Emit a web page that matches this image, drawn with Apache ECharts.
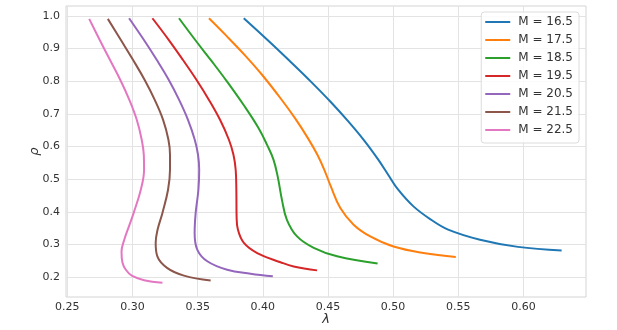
<!DOCTYPE html>
<html>
<head>
<meta charset="utf-8">
<script src="https://cdn.jsdelivr.net/npm/echarts@6/dist/echarts.min.js"></script>
<style>
  html, body { margin: 0; padding: 0; background: #fff; }
  #chart { width: 617px; height: 330px; }
</style>
</head>
<body>
<div id="chart"></div>
<script>
// curves: lambda (x) and rho (y) per Mach number
var lam_165 = [0.3854, 0.4051, 0.4212, 0.4369, 0.4518, 0.4656, 0.4783, 0.4886, 0.4962, 0.5039, 0.5156, 0.5292, 0.5422, 0.5667, 0.5958, 0.6293];
var rho_165 = [0.993, 0.921, 0.860, 0.799, 0.738, 0.677, 0.616, 0.560, 0.514, 0.468, 0.417, 0.376, 0.346, 0.315, 0.293, 0.282];

var lam_175 = [0.3587, 0.3714, 0.3860, 0.3994, 0.4136, 0.4247, 0.4346, 0.4419, 0.4472, 0.4522, 0.4595, 0.4697, 0.4825, 0.5003, 0.5233, 0.5481];
var rho_175 = [0.993, 0.942, 0.881, 0.820, 0.748, 0.687, 0.626, 0.575, 0.529, 0.478, 0.412, 0.361, 0.325, 0.294, 0.274, 0.262];

var lam_185 = [0.3357, 0.3492, 0.3611, 0.3726, 0.3852, 0.3967, 0.4032, 0.4082, 0.4116, 0.4147, 0.4185, 0.4263, 0.4391, 0.4570, 0.4881];
var rho_185 = [0.993, 0.921, 0.860, 0.799, 0.728, 0.657, 0.606, 0.560, 0.505, 0.437, 0.376, 0.325, 0.290, 0.264, 0.242];

var lam_195 = [0.3153, 0.3278, 0.3388, 0.3492, 0.3587, 0.3672, 0.3740, 0.3775, 0.3792, 0.3797, 0.3799, 0.3809, 0.3855, 0.3957, 0.4136, 0.4237, 0.4417];
var rho_195 = [0.993, 0.927, 0.865, 0.804, 0.743, 0.682, 0.621, 0.575, 0.529, 0.468, 0.386, 0.346, 0.305, 0.274, 0.246, 0.233, 0.221];

var lam_205 = [0.2974, 0.3087, 0.3187, 0.3279, 0.3358, 0.3426, 0.3478, 0.3503, 0.3512, 0.3506, 0.3485, 0.3477, 0.3498, 0.3574, 0.3727, 0.3906, 0.4077];
var rho_205 = [0.993, 0.927, 0.865, 0.804, 0.743, 0.682, 0.621, 0.575, 0.529, 0.468, 0.397, 0.335, 0.284, 0.249, 0.223, 0.211, 0.203];

var lam_215 = [0.2811, 0.2910, 0.3005, 0.3094, 0.3171, 0.3235, 0.3276, 0.3288, 0.3288, 0.3273, 0.3230, 0.3193, 0.3178, 0.3191, 0.3268, 0.3395, 0.3600];
var rho_215 = [0.991, 0.927, 0.865, 0.804, 0.743, 0.682, 0.621, 0.575, 0.529, 0.468, 0.397, 0.346, 0.305, 0.264, 0.228, 0.205, 0.190];

var lam_225 = [0.2668, 0.2748, 0.2828, 0.2907, 0.2976, 0.3033, 0.3071, 0.3087, 0.3089, 0.3064, 0.3010, 0.2975, 0.2937, 0.2916, 0.2923, 0.2949, 0.2995, 0.3089, 0.3230];
var rho_225 = [0.991, 0.927, 0.865, 0.804, 0.743, 0.682, 0.621, 0.575, 0.529, 0.468, 0.398, 0.358, 0.315, 0.278, 0.245, 0.223, 0.205, 0.191, 0.183];

var names = ["M = 16.5", "M = 17.5", "M = 18.5", "M = 19.5", "M = 20.5", "M = 21.5", "M = 22.5"];
var colors = ["#1f77b4", "#ff7f0e", "#2ca02c", "#d62728", "#9467bd", "#8c564b", "#e377c2"];
var xTicks = [0.25, 0.30, 0.35, 0.40, 0.45, 0.50, 0.55, 0.60];
var yTicks = [0.2, 0.3, 0.4, 0.5, 0.6, 0.7, 0.8, 0.9, 1.0];

var curves = [
    [lam_165, rho_165], [lam_175, rho_175], [lam_185, rho_185], [lam_195, rho_195],
    [lam_205, rho_205], [lam_215, rho_215], [lam_225, rho_225]
];

function pairs(xs, ys) {
    var out = [];
    for (var i = 0; i < xs.length; i++)
        out.push([xs[i], ys[i]]);
    return out;
}

var series = curves.map(function (c, i) {
    return {
        name: names[i],
        type: 'line',
        showSymbol: false,
        symbol: 'none',
        smooth: 0.4,
        lineStyle: { width: 2, color: colors[i] },
        itemStyle: { color: colors[i] },
        data: pairs(c[0], c[1])
    };
});

var font = "DejaVu Sans";
var chart = echarts.init(document.getElementById('chart'), null, { renderer: 'canvas' });

chart.setOption({
    animation: false,
    backgroundColor: '#ffffff',
    color: colors,
    grid: {
        left: 66, right: 31, top: 6, bottom: 33,
        outerBoundsMode: 'none',
        containLabel: false,
        show: true, borderColor: '#d4d4d4', borderWidth: 1
    },
    legend: {
        data: names,
        orient: 'vertical',
        right: 38, top: 12,
        icon: 'rect',
        itemWidth: 25, itemHeight: 2,
        itemGap: 2,
        padding: [2, 6, 5, 4],
        borderColor: '#dcdcdc', borderWidth: 1, borderRadius: 3,
        backgroundColor: 'rgba(255,255,255,0.85)',
        textStyle: { fontFamily: font, fontSize: 12, color: '#333', lineHeight: 16, padding: [0, 0, 0, 3] }
    },
    xAxis: {
        type: 'value',
        min: 0.249, max: 0.648,
        name: 'λ', nameLocation: 'middle', nameGap: 16,
        nameMoveOverlap: false,
        nameTextStyle: { fontFamily: font, fontSize: 13, fontStyle: 'italic', color: '#333' },
        axisLine: { show: false },
        axisTick: { show: false, customValues: xTicks },
        axisLabel: {
            customValues: xTicks, margin: 5,
            fontFamily: font, fontSize: 11, color: '#333',
            formatter: function (v) { return v.toFixed(2); }
        },
        splitLine: { show: true, lineStyle: { color: '#e3e3e3', width: 1 } }
    },
    yAxis: {
        type: 'value',
        min: 0.1395, max: 1.0305,
        name: 'ρ', nameLocation: 'middle', nameGap: 25, nameRotate: 90,
        nameMoveOverlap: false,
        nameTextStyle: { fontFamily: font, fontSize: 13, fontStyle: 'italic', color: '#333' },
        axisLine: { show: false },
        axisTick: { show: false, customValues: yTicks },
        axisLabel: {
            customValues: yTicks, margin: 6,
            fontFamily: font, fontSize: 11, color: '#333',
            formatter: function (v) { return v.toFixed(1); }
        },
        splitLine: { show: true, lineStyle: { color: '#e3e3e3', width: 1 } }
    },
    series: series
});
</script>
</body>
</html>
